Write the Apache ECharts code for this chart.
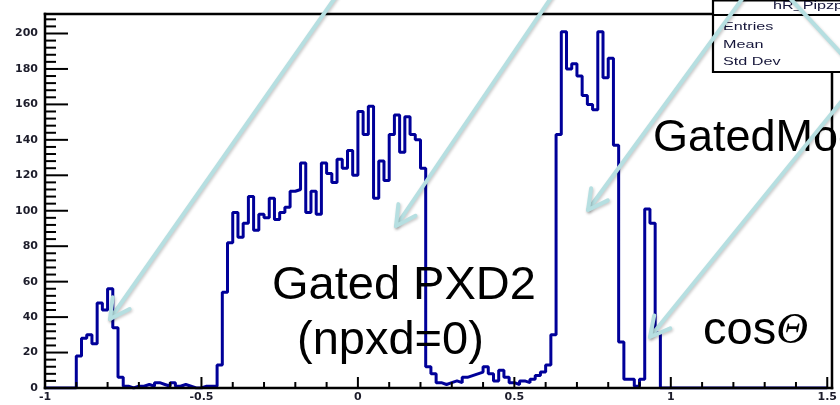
<!DOCTYPE html>
<html>
<head>
<meta charset="utf-8">
<script src="https://cdn.jsdelivr.net/npm/echarts@6/dist/echarts.min.js"></script>
<style>
  html, body { margin: 0; padding: 0; background: #ffffff; }
  #chart { width: 840px; height: 405px; }
</style>
</head>
<body>
<div id="chart"></div>
<script>
// Histogram binning (cos theta)
const xMin = -1;
const xMax = 1.5;
const nBins = 150;

// Entries per bin, from xMin to xMax
const counts = [
  0, 0, 0, 0, 0, 0,
  18, 28, 30, 25, 48, 44, 56, 34, 6, 1,
  0, 1, 1, 2, 1, 3, 2, 1, 3, 1, 2, 1, 0, 0, 1, 1, 1,
  13, 54, 82, 99, 85, 93, 108, 89, 98, 96,
  107, 95, 99, 102, 111, 112, 127, 99, 111, 98,
  127, 121, 116, 129, 124, 134, 120, 156, 143, 159,
  107, 128, 117, 143, 154, 133, 153, 143, 140, 124,
  12, 8, 3, 2, 3, 4, 3, 6, 7, 8,
  9, 12, 8, 4, 10, 6, 3, 2, 4, 3,
  5, 7, 9, 13, 30,
  143, 201, 180, 183, 176, 165, 160, 157, 201, 175, 186, 137, 26,
  5, 5, 1, 5, 101, 93, 31,
  0, 0, 0, 0, 0, 0, 0, 0, 0, 0, 0, 0, 0, 0, 0, 0,
  0, 0, 0, 0, 0, 0, 0, 0, 0, 0, 0, 0, 0, 0, 0, 0
];

// Axis divisions
const xLabelStep = 0.5;
const xMinorStep = 0.1;
const yMax = 211;
const yLabelStep = 20;
const yMinorStep = 4;

// Stats box rows
const statsTitle = 'hR_Pipzp';
const statsRows = ['Entries', 'Mean', 'Std Dev'];

// Plot frame geometry (pixels)
const G = { left: 45, top: 14, right: 8, bottom: 17 };
const W = 840, H = 405;
const frameRight = W - G.right, frameBottom = H - G.bottom;

// Build step outline from bin edges
const binWidth = (xMax - xMin) / nBins;
const outline = counts.map((c, k) => [xMin + k * binWidth, c]);
outline.push([xMax, counts[counts.length - 1]]);

// Tick positions (value, tick length) for the inward-pointing axis ticks
const xMajorEvery = Math.round(xLabelStep / xMinorStep);
const xTickData = [];
for (let i = 0; i <= Math.round((xMax - xMin) / xMinorStep); i++) {
  xTickData.push([xMin + i * xMinorStep, 0, i % xMajorEvery === 0 ? 11 : 6]);
}
const yTickData = [];
for (let v = 0; v < yMax; v += yMinorStep) {
  yTickData.push([xMin, v, v % yLabelStep === 0 ? 23 : 11]);
}

const labelFont = { fontFamily: 'DejaVu Sans', fontSize: 11, fontWeight: 'bold', color: '#1c1c2a' };

// Annotation arrows: [startX, startY, tipX, tipY]
const arrows = [
  [337, -5, 110, 319],
  [553, -5, 396, 226],
  [745, -5, 588, 210],
  [862, 76, 650, 337]
];
const arrowStyle = {
  stroke: '#b6dfe1', lineWidth: 4, fill: 'none', lineCap: 'round', lineJoin: 'round',
  shadowColor: 'rgba(0,0,0,0.22)', shadowBlur: 3, shadowOffsetX: 1, shadowOffsetY: 1.5
};
function arrowElements(a) {
  const [sx, sy, tx, ty] = a;
  const dx = sx - tx, dy = sy - ty, len = Math.hypot(dx, dy);
  const ux = dx / len, uy = dy / len;
  const ang = 28 * Math.PI / 180, L = 22;
  const b1 = [tx + L * (ux * Math.cos(ang) - uy * Math.sin(ang)), ty + L * (ux * Math.sin(ang) + uy * Math.cos(ang))];
  const b2 = [tx + L * (ux * Math.cos(-ang) - uy * Math.sin(-ang)), ty + L * (ux * Math.sin(-ang) + uy * Math.cos(-ang))];
  return [
    { type: 'line', z: 80, shape: { x1: sx, y1: sy, x2: tx, y2: ty }, style: arrowStyle },
    { type: 'polyline', z: 80, shape: { points: [b1, [tx, ty], b2] }, style: arrowStyle }
  ];
}

const graphics = [];
// frame edges as thin filled bars
const frameW = 2.5;
[
  [G.left - frameW / 2, G.top - frameW / 2, frameRight - G.left + frameW, frameW],
  [G.left - frameW / 2, frameBottom - frameW / 2, frameRight - G.left + frameW, frameW],
  [G.left - frameW / 2, G.top - frameW / 2, frameW, frameBottom - G.top + frameW],
  [frameRight - frameW / 2, G.top - frameW / 2, frameW, frameBottom - G.top + frameW]
].forEach(r => graphics.push({
  type: 'rect', z: 50, shape: { x: r[0], y: r[1], width: r[2], height: r[3] }, style: { fill: '#000' }
}));
// statistics box
graphics.push({
  type: 'rect', z: 60,
  shape: { x: 713, y: 0.5, width: 200, height: 71.5 },
  style: { fill: '#fff', stroke: '#000', lineWidth: 2.2 }
});
graphics.push({
  type: 'line', z: 61,
  shape: { x1: 713, y1: 15, x2: 860, y2: 15 },
  style: { stroke: '#000', lineWidth: 2 }
});
graphics.push({
  type: 'text', z: 62, x: 773, y: 6, scaleX: 1.47,
  style: { text: statsTitle, x: 0, y: 0, font: '11px "Liberation Sans"', fill: '#16163a', verticalAlign: 'middle' }
});
statsRows.forEach((t, i) => {
  graphics.push({
    type: 'text', z: 62, x: 723, y: 27 + i * 17.5, scaleX: 1.47,
    style: { text: t, x: 0, y: 0, font: '11px "Liberation Sans"', fill: '#16163a', verticalAlign: 'middle' }
  });
});
// annotation texts
const bigFont = '47px "Liberation Sans"';
graphics.push({ type: 'text', z: 70, x: 272, y: 286, style: { text: 'Gated PXD2', font: bigFont, fill: '#000', verticalAlign: 'middle' } });
graphics.push({ type: 'text', z: 70, x: 297, y: 341, style: { text: '(npxd=0)', font: bigFont, fill: '#000', verticalAlign: 'middle' } });
graphics.push({ type: 'text', z: 70, x: 653, y: 139, style: { text: 'GatedMode', font: '45px "Liberation Sans"', fill: '#000', verticalAlign: 'middle' } });
graphics.push({
  type: 'text', z: 70, x: 703, y: 331,
  style: {
    text: '{a|cos}{b|Θ}', fill: '#000', verticalAlign: 'middle',
    rich: {
      a: { font: '47px "Liberation Sans"', fill: '#000' },
      b: { font: 'italic 44px "Liberation Serif"', fill: '#000' }
    }
  }
});
arrows.forEach(a => graphics.push(...arrowElements(a)));
// arrow leaving to the right at the top
graphics.push({ type: 'line', z: 80, shape: { x1: 787, y1: -5, x2: 862, y2: 76 }, style: arrowStyle });

// tick renderers drawn as thin filled bars:
// x ticks rise from the bottom edge, y ticks run right from the left edge
const tickW = 2;
function renderXTick(params, api) {
  const p = api.coord([api.value(0), api.value(1)]);
  const len = api.value(2);
  return { type: 'rect', shape: { x: p[0] - tickW / 2, y: p[1] - len, width: tickW, height: len }, style: { fill: '#000' } };
}
function renderYTick(params, api) {
  const p = api.coord([api.value(0), api.value(1)]);
  const len = api.value(2);
  return { type: 'rect', shape: { x: p[0], y: p[1] - tickW / 2, width: len, height: tickW }, style: { fill: '#000' } };
}

const chart = echarts.init(document.getElementById('chart'), null, { renderer: 'canvas' });
chart.setOption({
  animation: false,
  backgroundColor: '#ffffff',
  grid: { left: G.left, top: G.top, right: G.right, bottom: G.bottom, containLabel: false },
  xAxis: {
    type: 'value', min: xMin, max: xMax, interval: xLabelStep, position: 'bottom',
    axisLine: { show: false, onZero: false },
    axisTick: { show: false },
    splitLine: { show: false },
    axisLabel: Object.assign({ margin: 4 }, labelFont)
  },
  yAxis: {
    type: 'value', min: 0, max: yMax, interval: yLabelStep, position: 'left',
    axisLine: { show: false, onZero: false },
    axisTick: { show: false },
    splitLine: { show: false },
    axisLabel: Object.assign({ margin: 7, showMaxLabel: false }, labelFont)
  },
  series: [
    {
      type: 'line',
      data: outline,
      step: 'end',
      symbol: 'none',
      clip: true,
      lineStyle: { color: '#000099', width: 3 },
      z: 2
    },
    {
      type: 'custom', data: xTickData, encode: { x: 0, y: 1 },
      renderItem: renderXTick, clip: false, silent: true, z: 3
    },
    {
      type: 'custom', data: yTickData, encode: { x: 0, y: 1 },
      renderItem: renderYTick, clip: false, silent: true, z: 3
    }
  ],
  graphic: graphics
});
</script>
</body>
</html>
